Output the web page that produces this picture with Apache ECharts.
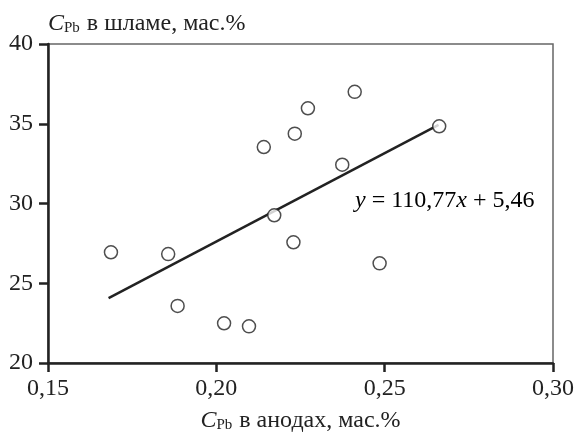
<!DOCTYPE html>
<html>
<head>
<meta charset="utf-8">
<script src="https://cdn.jsdelivr.net/npm/echarts@6/dist/echarts.min.js"></script>
<style>
  html, body { margin: 0; padding: 0; background: #fff; }
  #chart { width: 577px; height: 433px; }
</style>
</head>
<body>
<div id="chart"></div>
<script>
// содержание свинца в анодах (x) и в шламе (y), мас.%
const anodePb = [0.1687, 0.1857, 0.1885, 0.2023, 0.2097, 0.2141, 0.2172, 0.2229, 0.2233, 0.2272, 0.2374, 0.2411, 0.2485, 0.2662]
const slimePb = [26.94, 26.83, 23.58, 22.49, 22.30, 33.54, 29.26, 27.57, 34.38, 35.97, 32.43, 37.00, 26.25, 34.84]

// линия регрессии y = 110,77x + 5,46
const fitK = 110.77
const fitB = 5.46
const fitX = [0.168, 0.266]

const xTicks = [0.15, 0.30, 0.05]
const yTicks = [20, 40, 5]

const font = 'Liberation Serif'

const chart = echarts.init(document.getElementById('chart'))

const rich = {
  c: { fontFamily: font, fontSize: 24, fontStyle: 'italic', color: '#222' },
  s: { fontFamily: font, fontSize: 15, color: '#222', padding: [10, 1, 0, 0], verticalAlign: 'bottom' },
  t: { fontFamily: font, fontSize: 24, color: '#222' },
}

chart.setOption({
  animation: false,
  grid: {
    left: 48, right: 24, top: 44, bottom: 70,
    outerBoundsMode: 'none',
    containLabel: false,
    show: true, borderColor: '#666', borderWidth: 1.5,
  },
  xAxis: {
    type: 'value',
    min: xTicks[0], max: xTicks[1], interval: xTicks[2],
    splitLine: { show: false },
    axisLine: { lineStyle: { color: '#222', width: 2.5 } },
    axisTick: { length: 9, lineStyle: { color: '#222', width: 2.5 } },
    axisLabel: {
      margin: 14, fontFamily: font, fontSize: 24, color: '#222',
      formatter: v => v.toFixed(2).replace('.', ','),
    },
    name: '{c|C}{s|Pb}{t| в анодах, мас.%}',
    nameLocation: 'middle',
    nameGap: 45,
    nameTextStyle: { rich },
  },
  yAxis: {
    type: 'value',
    min: yTicks[0], max: yTicks[1], interval: yTicks[2],
    splitLine: { show: false },
    axisLine: { show: true, lineStyle: { color: '#222', width: 2.5 } },
    axisTick: { show: true, length: 9, lineStyle: { color: '#222', width: 2.5 } },
    axisLabel: { margin: 15, fontFamily: font, fontSize: 24, color: '#222' },
    name: '{c|C}{s|Pb}{t| в шламе, мас.%}',
    nameLocation: 'end',
    nameGap: 8,
    nameTextStyle: { rich, align: 'left' },
  },
  graphic: [{
    type: 'text',
    left: 355,
    top: 189,
    style: {
      text: '{c|y}{t| = 110,77}{c|x}{t| + 5,46}',
      rich,
    },
  }],
  series: [{
    type: 'line',
    data: fitX.map(x => [x, fitK * x + fitB]),
    symbol: 'none',
    lineStyle: { color: '#222', width: 2.5 },
    z: 1,
  }, {
    type: 'scatter',
    data: anodePb.map((x, i) => [x, slimePb[i]]),
    symbol: 'circle',
    symbolSize: 13,
    itemStyle: { color: '#fff', borderColor: '#222', borderWidth: 1.5 },
    z: 2,
  }],
})
</script>
</body>
</html>
